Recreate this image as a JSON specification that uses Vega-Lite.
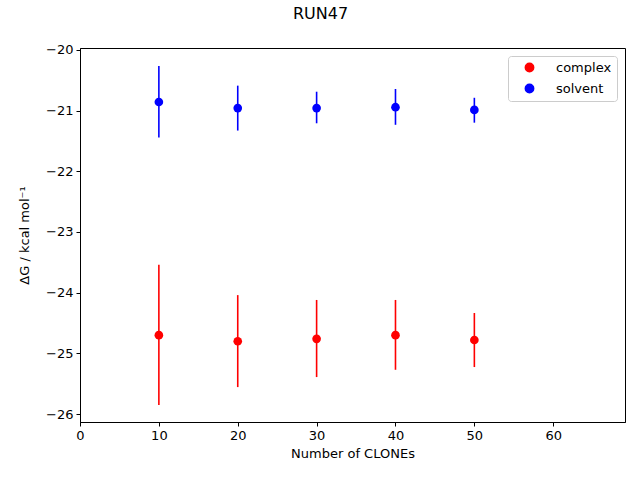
{
  "$schema": "https://vega.github.io/schema/vega-lite/v6.json",
  "autosize": {"type": "none"},
  "width": 545,
  "height": 374,
  "padding": {"left": 80, "top": 48, "right": 15, "bottom": 58},
  "background": "white",
  "title": {"text": "RUN47", "anchor": "middle", "frame": "group", "dx": -32, "offset": 22, "fontSize": 16, "font": "DejaVu Sans", "fontWeight": "normal", "color": "black"},
  "config": {
    "view": {"stroke": "black", "strokeWidth": 1},
    "axis": {"grid": false, "domainColor": "black", "tickColor": "black", "tickSize": 4, "labelFont": "DejaVu Sans", "labelFontSize": 13, "labelColor": "black", "titleFont": "DejaVu Sans", "titleFontSize": 13, "titleFontWeight": "normal", "titleColor": "black", "labelPadding": 3, "labelFlush": false},
    "legend": {"labelFont": "DejaVu Sans", "labelFontSize": 13, "labelColor": "black"}
  },
  "data": {
    "values": [
      {"n": 10, "series": "complex", "dg": -24.70, "lo": -25.85, "hi": -23.54},
      {"n": 20, "series": "complex", "dg": -24.80, "lo": -25.555, "hi": -24.04},
      {"n": 30, "series": "complex", "dg": -24.76, "lo": -25.39, "hi": -24.12},
      {"n": 40, "series": "complex", "dg": -24.70, "lo": -25.27, "hi": -24.12},
      {"n": 50, "series": "complex", "dg": -24.78, "lo": -25.225, "hi": -24.335},
      {"n": 10, "series": "solvent", "dg": -20.86, "lo": -21.445, "hi": -20.265},
      {"n": 20, "series": "solvent", "dg": -20.96, "lo": -21.33, "hi": -20.59},
      {"n": 30, "series": "solvent", "dg": -20.96, "lo": -21.21, "hi": -20.69},
      {"n": 40, "series": "solvent", "dg": -20.945, "lo": -21.235, "hi": -20.645},
      {"n": 50, "series": "solvent", "dg": -20.99, "lo": -21.20, "hi": -20.79}
    ]
  },
  "layer": [
    {
      "mark": {"type": "rule", "strokeWidth": 1.6},
      "encoding": {
        "x": {"field": "n", "type": "quantitative"},
        "y": {"field": "lo", "type": "quantitative"},
        "y2": {"field": "hi"},
        "color": {"field": "series", "type": "nominal", "scale": {"domain": ["complex", "solvent"], "range": ["#ff0000", "#0000ff"]}, "legend": {"title": null, "orient": "top-right", "offset": 8, "symbolType": "circle", "symbolSize": 70, "symbolOffset": 10, "strokeColor": "#cccccc", "fillColor": "white", "padding": 5, "cornerRadius": 3, "rowPadding": 6, "labelOffset": 20}}
      }
    },
    {
      "mark": {"type": "point", "filled": true, "opacity": 1, "size": 75, "shape": "circle"},
      "encoding": {
        "x": {"field": "n", "type": "quantitative", "title": "Number of CLONEs", "scale": {"domain": [0, 69.1], "nice": false, "zero": false}, "axis": {"values": [0, 10, 20, 30, 40, 50, 60], "titlePadding": 5}},
        "y": {"field": "dg", "type": "quantitative", "title": "ΔG / kcal mol⁻¹", "scale": {"domain": [-26.13, -19.97], "nice": false, "zero": false}, "axis": {"values": [-26, -25, -24, -23, -22, -21, -20], "format": "d", "labelExpr": "replace(datum.label, '-', '−')", "titlePadding": 14}},
        "color": {"field": "series", "type": "nominal", "scale": {"domain": ["complex", "solvent"], "range": ["#ff0000", "#0000ff"]}, "legend": {"title": null, "orient": "top-right", "offset": 8, "symbolType": "circle", "symbolSize": 70, "symbolOffset": 10, "strokeColor": "#cccccc", "fillColor": "white", "padding": 5, "cornerRadius": 3, "rowPadding": 6, "labelOffset": 20}}
      }
    }
  ]
}
